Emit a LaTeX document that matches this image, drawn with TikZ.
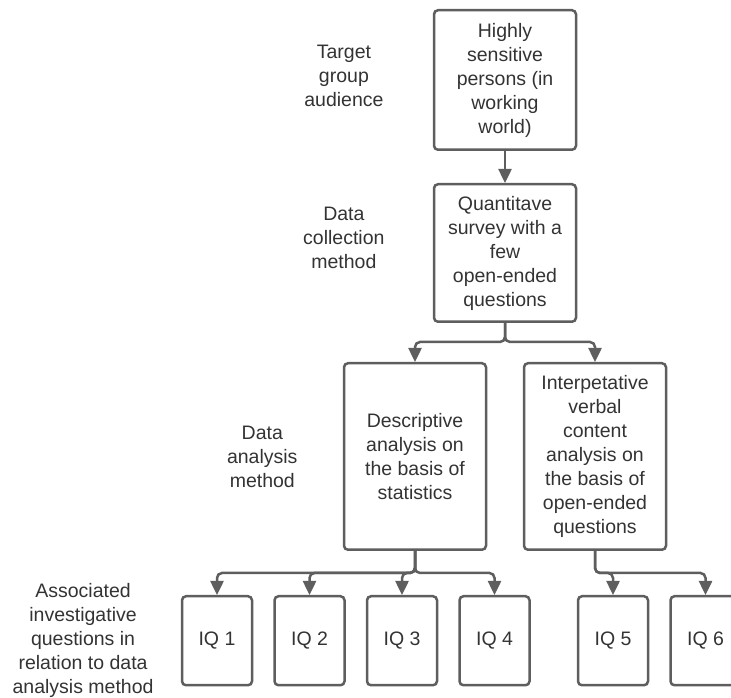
\documentclass[tikz,border=0pt]{standalone}
\usepackage{fontspec}
\setmainfont{Liberation Sans}
\usepackage[dvipsnames]{xcolor}
\usetikzlibrary{positioning,arrows.meta}

\definecolor{boxline}{HTML}{5E5E5E}
\definecolor{boxtext}{HTML}{333333}

\begin{document}
\begin{tikzpicture}[->,>={Triangle[width=13pt,length=14pt]},x=1pt,y=1pt,line width=2.5pt,color=boxline,
    main node/.style={draw,rounded corners=4pt,align=center,inner sep=0pt,minimum width=142pt,text=boxtext,font=\fontsize{19.5pt}{24pt}\selectfont},
    iq node/.style={main node,minimum width=70pt,minimum height=89pt},
    side label/.style={align=center,inner sep=0pt,text=boxtext,font=\fontsize{19.5pt}{24pt}\selectfont},
    fork/.style={rounded corners=5pt,to path={-- ++(0,-19pt) -| (\tikztotarget)}},
    drop/.style={rounded corners=5pt,to path={-- ++(0,-22pt) -| (\tikztotarget)}}]
            \useasboundingbox (0,0) rectangle (731,698);

            \node[main node, minimum height=139.5pt] (1) at (505,618) {Highly\\sensitive\\persons (in\\working\\world)};
            \node[main node, minimum height=137.5pt] (2) [below=32pt of 1] {Quantitave\\survey with a\\few\\open-ended\\questions};

            \node[main node, minimum height=186.5pt] (3) [below=39pt of 2, xshift=-90pt] {Descriptive\\analysis on\\the basis of\\statistics};
            \node[main node, minimum height=186.5pt] (4) [below=39pt of 2, xshift=90pt] {Interpetative\\verbal\\content\\analysis on\\the basis of\\open-ended\\questions};

            \node[iq node] (5) [below=44pt of 3, xshift=-198pt] {IQ 1};
            \node[iq node] (6) [right=20pt of 5] {IQ 2};
            \node[iq node] (7) [right=20pt of 6] {IQ 3};
            \node[iq node] (8) [right=20pt of 7] {IQ 4};
            \node[iq node] (9) [below=44pt of 4, xshift=18pt] {IQ 5};
            \node[iq node] (10) [right=20pt of 9] {IQ 6};

            \node[side label] (11) [left=48pt of 1, yshift=4pt] {Target\\group\\audience};
            \node[side label] (12) [left=47pt of 2, yshift=15pt] {Data\\collection\\method};
            \node[side label] (13) [left=44pt of 3] {Data\\analysis\\method};
            \node[side label] (14) [left=26pt of 5] {Associated\\investigative\\questions in\\relation to data\\analysis method};

            \path
                (1) edge (2)
                (2.south) edge[fork] (3)
                (2.south) edge[fork] (4)
                (3.south) edge[drop] (5)
                (3.south) edge[drop] (6)
                (3.south) edge[drop] (7)
                (3.south) edge[drop] (8)
                (4.south) edge[drop] (9)
                (4.south) edge[drop] (10)
                ;
        \end{tikzpicture}
\end{document}
